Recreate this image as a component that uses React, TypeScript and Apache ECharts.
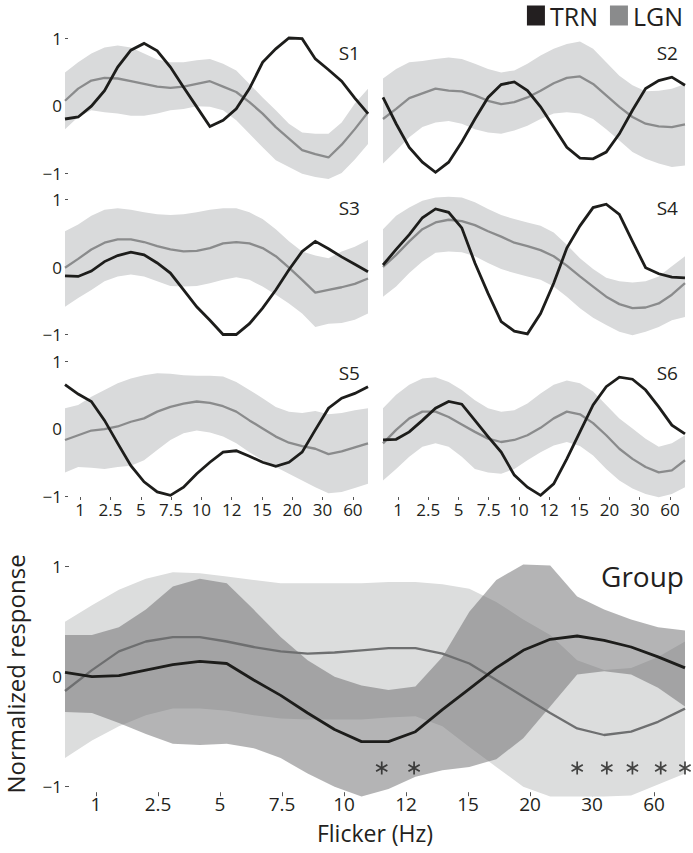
import React, { useEffect, useRef } from 'react';
import * as echarts from 'echarts';

// ---------- data ----------
const POINTS = ['p0','p1','p2','p3','p4','p5','p6','p7','p8','p9','p10','p11','p12','p13','p14','p15','p16','p17','p18','p19','p20','p21','p22','p23'];
const FREQ_LABELS = ['1', '2.5', '5', '7.5', '10', '12', '15', '20', '30', '60'];
const PANEL_NAMES = ['S1', 'S2', 'S3', 'S4', 'S5', 'S6'];

const s1Trn = [-0.20,-0.17,-0.01,0.22,0.57,0.82,0.92,0.81,0.57,0.27,-0.02,-0.31,-0.22,-0.05,0.25,0.64,0.84,1.0,0.99,0.69,0.53,0.36,0.11,-0.12];
const s1Lgn = [0.07,0.25,0.37,0.41,0.40,0.36,0.32,0.28,0.26,0.28,0.32,0.36,0.28,0.20,0.05,-0.12,-0.32,-0.49,-0.66,-0.72,-0.77,-0.58,-0.35,-0.10];
const s1Hi = [0.49,0.64,0.77,0.86,0.89,0.86,0.77,0.68,0.64,0.64,0.67,0.69,0.62,0.52,0.32,0.12,-0.07,-0.27,-0.40,-0.42,-0.42,-0.25,0.03,0.25];
const s1Lo = [-0.35,-0.17,-0.07,-0.10,-0.12,-0.15,-0.15,-0.12,-0.07,-0.05,-0.01,-0.02,-0.07,-0.22,-0.42,-0.62,-0.81,-0.91,-1.01,-1.06,-1.09,-1.0,-0.8,-0.57];

const s2Trn = [0.12,-0.27,-0.62,-0.84,-0.99,-0.84,-0.54,-0.20,0.12,0.31,0.35,0.22,-0.02,-0.32,-0.62,-0.78,-0.79,-0.69,-0.42,-0.07,0.25,0.37,0.42,0.30];
const s2Lgn = [-0.20,-0.05,0.11,0.18,0.25,0.22,0.21,0.15,0.07,0.02,0.05,0.12,0.22,0.33,0.41,0.43,0.32,0.15,-0.02,-0.17,-0.27,-0.31,-0.32,-0.28];
const s2Hi = [0.40,0.54,0.64,0.66,0.69,0.71,0.69,0.62,0.54,0.49,0.52,0.62,0.74,0.84,0.91,0.95,0.84,0.64,0.44,0.30,0.21,0.22,0.25,0.32];
const s2Lo = [-0.86,-0.67,-0.47,-0.32,-0.25,-0.23,-0.27,-0.35,-0.40,-0.42,-0.37,-0.30,-0.20,-0.12,-0.10,-0.12,-0.20,-0.35,-0.52,-0.69,-0.79,-0.86,-0.91,-0.89];

const s3Trn = [-0.13,-0.14,-0.06,0.08,0.17,0.22,0.18,0.06,-0.09,-0.34,-0.59,-0.79,-1.0,-1.0,-0.84,-0.61,-0.34,-0.04,0.23,0.38,0.27,0.15,0.04,-0.07];
const s3Lgn = [-0.01,0.12,0.26,0.36,0.41,0.41,0.37,0.31,0.26,0.23,0.24,0.28,0.35,0.37,0.35,0.28,0.16,-0.01,-0.19,-0.38,-0.34,-0.30,-0.25,-0.17];
const s3Hi = [0.53,0.63,0.76,0.85,0.87,0.85,0.81,0.78,0.77,0.78,0.81,0.85,0.87,0.87,0.81,0.71,0.56,0.38,0.23,0.17,0.13,0.23,0.30,0.40];
const s3Lo = [-0.59,-0.46,-0.34,-0.21,-0.14,-0.11,-0.14,-0.21,-0.28,-0.29,-0.28,-0.24,-0.19,-0.15,-0.19,-0.29,-0.41,-0.54,-0.69,-0.89,-0.84,-0.83,-0.78,-0.69];

const s4Trn = [0.03,0.26,0.48,0.73,0.86,0.81,0.58,0.06,-0.39,-0.81,-0.95,-0.99,-0.69,-0.24,0.28,0.61,0.88,0.93,0.78,0.38,-0.01,-0.10,-0.15,-0.16];
const s4Lgn = [0.0,0.18,0.38,0.56,0.66,0.70,0.68,0.62,0.53,0.45,0.36,0.31,0.25,0.16,0.02,-0.14,-0.29,-0.44,-0.55,-0.61,-0.60,-0.54,-0.41,-0.24];
const s4Hi = [0.56,0.76,0.88,0.98,1.03,1.04,1.03,0.96,0.86,0.77,0.71,0.66,0.61,0.51,0.33,0.13,-0.03,-0.16,-0.21,-0.23,-0.21,-0.14,0.01,0.16];
const s4Lo = [-0.44,-0.29,-0.09,0.08,0.21,0.23,0.22,0.16,0.06,-0.03,-0.09,-0.14,-0.19,-0.29,-0.44,-0.61,-0.75,-0.86,-0.96,-1.01,-0.96,-0.89,-0.79,-0.74];

const s5Trn = [0.65,0.51,0.40,0.12,-0.22,-0.55,-0.79,-0.94,-0.99,-0.87,-0.67,-0.50,-0.35,-0.33,-0.41,-0.50,-0.56,-0.50,-0.35,-0.02,0.30,0.45,0.52,0.62];
const s5Lgn = [-0.17,-0.10,-0.03,-0.01,0.03,0.10,0.15,0.25,0.32,0.37,0.40,0.38,0.33,0.25,0.12,0.0,-0.12,-0.21,-0.26,-0.30,-0.38,-0.34,-0.28,-0.22];
const s5Hi = [0.30,0.35,0.47,0.57,0.67,0.74,0.79,0.82,0.81,0.79,0.78,0.78,0.77,0.69,0.57,0.45,0.32,0.25,0.23,0.26,0.21,0.23,0.27,0.30];
const s5Lo = [-0.65,-0.57,-0.58,-0.60,-0.57,-0.55,-0.47,-0.32,-0.17,-0.07,-0.03,-0.06,-0.12,-0.22,-0.35,-0.47,-0.57,-0.67,-0.77,-0.87,-0.96,-0.94,-0.88,-0.82];

const s6Trn = [-0.17,-0.16,-0.05,0.12,0.30,0.40,0.36,0.12,-0.12,-0.35,-0.69,-0.87,-0.99,-0.82,-0.45,-0.05,0.35,0.62,0.76,0.73,0.57,0.32,0.05,-0.08];
const s6Lgn = [-0.22,-0.02,0.15,0.25,0.25,0.17,0.06,-0.05,-0.15,-0.20,-0.17,-0.10,0.01,0.15,0.25,0.21,0.08,-0.10,-0.30,-0.45,-0.57,-0.65,-0.62,-0.47];
const s6Hi = [0.30,0.50,0.65,0.74,0.76,0.69,0.57,0.42,0.30,0.25,0.27,0.37,0.52,0.65,0.71,0.67,0.55,0.35,0.15,0.0,-0.15,-0.27,-0.22,-0.10];
const s6Lo = [-0.77,-0.60,-0.42,-0.27,-0.22,-0.27,-0.42,-0.60,-0.65,-0.67,-0.60,-0.47,-0.35,-0.25,-0.20,-0.26,-0.40,-0.60,-0.77,-0.89,-0.97,-1.02,-0.97,-0.87];

const groupTrn = [0.04,0.0,0.01,0.06,0.11,0.14,0.12,-0.03,-0.17,-0.33,-0.48,-0.59,-0.59,-0.50,-0.30,-0.11,0.08,0.24,0.34,0.37,0.33,0.27,0.18,0.08];
const groupLgn = [-0.13,0.06,0.23,0.32,0.36,0.36,0.32,0.27,0.23,0.21,0.22,0.24,0.26,0.26,0.21,0.12,-0.03,-0.18,-0.33,-0.47,-0.53,-0.50,-0.41,-0.29];
const groupTrnHi = [0.38,0.38,0.45,0.61,0.82,0.89,0.85,0.61,0.36,0.15,0.0,-0.08,-0.12,-0.09,0.18,0.59,0.88,1.02,1.01,0.73,0.61,0.52,0.45,0.42];
const groupTrnLo = [-0.32,-0.33,-0.42,-0.52,-0.61,-0.62,-0.61,-0.65,-0.74,-0.88,-1.0,-1.09,-1.02,-0.91,-0.85,-0.82,-0.75,-0.56,-0.27,0.02,0.05,0.02,-0.10,-0.27];
const groupLgnHi = [0.50,0.65,0.79,0.89,0.95,0.94,0.91,0.88,0.85,0.85,0.85,0.85,0.86,0.86,0.84,0.80,0.68,0.52,0.38,0.15,0.06,0.08,0.18,0.32];
const groupLgnLo = [-0.74,-0.58,-0.45,-0.35,-0.29,-0.29,-0.31,-0.35,-0.38,-0.39,-0.39,-0.39,-0.37,-0.36,-0.45,-0.64,-0.82,-1.0,-1.09,-1.09,-1.09,-1.08,-0.98,-0.88];

const starX = [11.75, 12.95, 19, 20.1, 21.05, 22.1, 23];
const starY = [-0.83, -0.83, -0.83, -0.83, -0.83, -0.83, -0.83];

const panels = [
  { trn: s1Trn, lgn: s1Lgn, hi: s1Hi, lo: s1Lo },
  { trn: s2Trn, lgn: s2Lgn, hi: s2Hi, lo: s2Lo },
  { trn: s3Trn, lgn: s3Lgn, hi: s3Hi, lo: s3Lo },
  { trn: s4Trn, lgn: s4Lgn, hi: s4Hi, lo: s4Lo },
  { trn: s5Trn, lgn: s5Lgn, hi: s5Hi, lo: s5Lo },
  { trn: s6Trn, lgn: s6Lgn, hi: s6Hi, lo: s6Lo },
];

// ---------- style ----------
const FONT = '"Open Sans", sans-serif';
const TEXT = '#231f20';
const BLACK = '#1d1d1b';
const GRAY_LINE = '#8a8b8c';
const GROUP_GRAY_LINE = '#6e6f70';
const BAND = '#d9dadb';
const GROUP_LGN_BAND = '#dcdddd';
const GROUP_TRN_BAND = 'rgba(107,108,110,0.51)';
const TICK = '#555';

const ASTERISK =
  'path://M-0.8,-6L0.8,-6L0.8,6L-0.8,6Z' +
  'M4.796,-3.693L5.596,-2.307L-4.796,3.693L-5.596,2.307Z' +
  'M5.596,2.307L4.796,3.693L-5.596,-2.307L-4.796,-3.693Z';

const fmtY = (v: number) => (v < 0 ? '\u2212' + Math.abs(v) : String(v));

function buildOption() {
  const grids: any[] = [];
  const xAxes: any[] = [];
  const yAxes: any[] = [];
  const series: any[] = [];

  const layouts = [
    { left: 65, top: 24.5, width: 303, height: 162 },
    { left: 383, top: 24.5, width: 302, height: 162 },
    { left: 65, top: 186, width: 303, height: 162 },
    { left: 383, top: 186, width: 302, height: 162 },
    { left: 65, top: 347.5, width: 303, height: 162 },
    { left: 383, top: 347.5, width: 302, height: 162 },
  ];

  const yLabelStyle = { color: TEXT, fontFamily: FONT, fontSize: 17, margin: 3, formatter: fmtY, customValues: [-1, 0, 1] };

  const addBand = (xi: number, yi: number, id: string, lo: number[], hi: number[], color: string) => {
    series.push({
      type: 'line', xAxisIndex: xi, yAxisIndex: yi, data: lo, stack: id, stackStrategy: 'all',
      symbol: 'none', lineStyle: { width: 0, opacity: 0 }, silent: true, clip: false, z: 1,
    });
    series.push({
      type: 'line', xAxisIndex: xi, yAxisIndex: yi, data: hi.map((h, i) => h - lo[i]), stack: id, stackStrategy: 'all',
      symbol: 'none', lineStyle: { width: 0, opacity: 0 }, areaStyle: { color, opacity: 1 }, silent: true, clip: false, z: 1,
    });
  };

  panels.forEach((p, k) => {
    const L = layouts[k];
    grids.push({ ...L, containLabel: false, outerBoundsMode: 'none' });
    const leftCol = k % 2 === 0;
    const bottomRow = k >= 4;
    const xi = xAxes.length;
    xAxes.push({ type: 'category', gridIndex: k, data: POINTS, boundaryGap: false, show: false });
    if (bottomRow) {
      xAxes.push({
        type: 'category', gridIndex: k, data: FREQ_LABELS, boundaryGap: true, position: 'bottom', offset: -12.5,
        axisLine: { show: false },
        axisTick: { show: true, alignWithLabel: true, length: 3, lineStyle: { color: TICK, width: 1 } },
        axisLabel: { color: TEXT, fontFamily: FONT, fontSize: 17, margin: 4, interval: 0 },
        splitLine: { show: false },
      });
    }
    const yi = yAxes.length;
    yAxes.push({
      type: 'value', gridIndex: k, min: -1.2, max: 1.2,
      axisLine: { show: false }, splitLine: { show: false },
      axisTick: { show: leftCol, inside: true, length: 3, customValues: [-1, 0, 1], lineStyle: { color: TICK, width: 1 } },
      axisLabel: { show: leftCol, ...yLabelStyle },
    });
    addBand(xi, yi, 'band' + k, p.lo, p.hi, BAND);
    series.push({
      name: 'LGN', type: 'line', xAxisIndex: xi, yAxisIndex: yi, data: p.lgn, symbol: 'none', clip: false, z: 3,
      lineStyle: { color: GRAY_LINE, width: 2.3 }, itemStyle: { color: GRAY_LINE }, silent: true,
    });
    series.push({
      name: 'TRN', type: 'line', xAxisIndex: xi, yAxisIndex: yi, data: p.trn, symbol: 'none', clip: false, z: 4,
      lineStyle: { color: BLACK, width: 2.8, join: 'miter' }, itemStyle: { color: BLACK }, silent: true,
    });
  });

  // group panel
  const g = grids.length;
  grids.push({ left: 65, top: 555.7, width: 620, height: 236.5, containLabel: false, outerBoundsMode: 'none' });
  const gx = xAxes.length;
  xAxes.push({ type: 'category', gridIndex: g, data: POINTS, boundaryGap: false, show: false });
  xAxes.push({
    type: 'category', gridIndex: g, data: FREQ_LABELS, boundaryGap: true, position: 'bottom',
    axisLine: { show: false },
    axisTick: { show: true, alignWithLabel: true, length: 4, lineStyle: { color: TICK, width: 1 } },
    axisLabel: { color: TEXT, fontFamily: FONT, fontSize: 19, margin: 2, interval: 0 },
    splitLine: { show: false },
    name: 'Flicker (Hz)', nameLocation: 'middle', nameGap: 29,
    nameTextStyle: { color: TEXT, fontFamily: FONT, fontSize: 23 },
  });
  const gxv = xAxes.length;
  xAxes.push({ type: 'value', gridIndex: g, min: 0, max: 23, show: false });
  const gy = yAxes.length;
  yAxes.push({
    type: 'value', gridIndex: g, min: -1.05, max: 1.1,
    axisLine: { show: false }, splitLine: { show: false },
    axisTick: { show: true, inside: true, length: 4, customValues: [-1, 0, 1], lineStyle: { color: TICK, width: 1 } },
    axisLabel: { ...yLabelStyle },
    name: 'Normalized response', nameLocation: 'middle', nameGap: 38,
    nameTextStyle: { color: TEXT, fontFamily: FONT, fontSize: 24 },
  });
  addBand(gx, gy, 'gLgn', groupLgnLo, groupLgnHi, GROUP_LGN_BAND);
  addBand(gx, gy, 'gTrn', groupTrnLo, groupTrnHi, GROUP_TRN_BAND);
  series.push({
    name: 'LGN', type: 'line', xAxisIndex: gx, yAxisIndex: gy, data: groupLgn, symbol: 'none', clip: false, z: 3,
    lineStyle: { color: GROUP_GRAY_LINE, width: 2.3 }, itemStyle: { color: GROUP_GRAY_LINE }, silent: true,
  });
  series.push({
    name: 'TRN', type: 'line', xAxisIndex: gx, yAxisIndex: gy, data: groupTrn, symbol: 'none', clip: false, z: 4,
    lineStyle: { color: BLACK, width: 2.8 }, itemStyle: { color: BLACK }, silent: true,
  });
  series.push({
    type: 'scatter', xAxisIndex: gxv, yAxisIndex: gy, data: starX.map((x, i) => [x, starY[i]]),
    symbol: ASTERISK, symbolSize: 13, symbolKeepAspect: true, itemStyle: { color: BLACK }, clip: false, z: 5, silent: true,
  });

  const labelPos = [
    [360, 53], [678, 53], [360, 208], [678, 208], [360, 373], [678, 373],
  ];
  const graphic: any[] = PANEL_NAMES.map((t, i) => ({
    type: 'text', x: labelPos[i][0], y: labelPos[i][1], silent: true,
    style: { text: t, fill: TEXT, font: `19px ${FONT}`, align: 'right', verticalAlign: 'middle', textAlign: 'right', textVerticalAlign: 'middle' },
  }));
  graphic.push({
    type: 'text', x: 684, y: 576, silent: true,
    style: { text: 'Group', fill: TEXT, font: `28px ${FONT}`, align: 'right', verticalAlign: 'middle', textAlign: 'right', textVerticalAlign: 'middle' },
  });

  return {
    animation: false,
    backgroundColor: '#ffffff',
    textStyle: { fontFamily: FONT },
    legend: {
      right: 10, top: 3, padding: 0, icon: 'rect', itemWidth: 18, itemHeight: 20, itemGap: 12,
      selectedMode: false,
      textStyle: { color: TEXT, fontFamily: FONT, fontSize: 25 },
      data: [
        { name: 'TRN', itemStyle: { color: '#231f20' } },
        { name: 'LGN', itemStyle: { color: '#8a8b8c' } },
      ],
    },
    grid: grids,
    xAxis: xAxes,
    yAxis: yAxes,
    series,
    graphic,
  };
}

export default function App() {
  const ref = useRef<HTMLDivElement>(null);
  useEffect(() => {
    if (!ref.current) return;
    const chart = echarts.init(ref.current, undefined, { renderer: 'svg' });
    chart.setOption(buildOption() as any);
    return () => chart.dispose();
  }, []);
  return <div ref={ref} style={{ position: 'absolute', left: 0, top: 0, width: 693, height: 853 }} />;
}
